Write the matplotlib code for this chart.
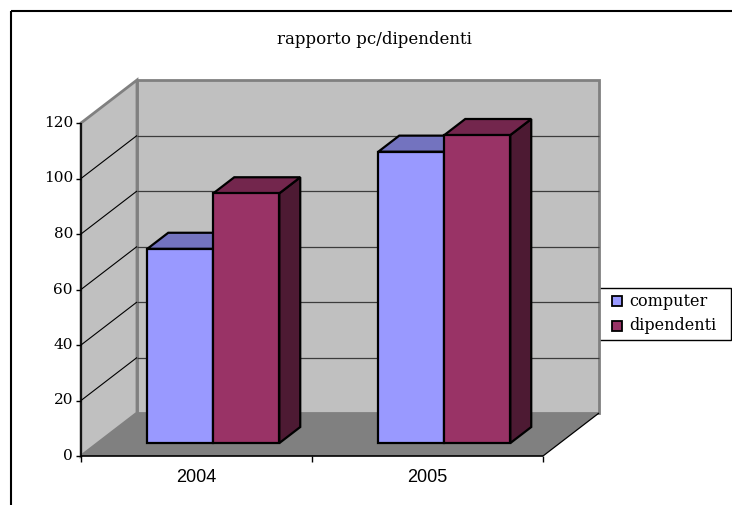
import matplotlib
matplotlib.use("Agg")
import matplotlib.pyplot as plt
from matplotlib.patches import Polygon, Rectangle

# ---- data ----
categories = ["2004", "2005"]
series_names = ["computer", "dipendenti"]
computer = [70, 105]
dipendenti = [90, 111]
y_ticks = [0, 20, 40, 60, 80, 100, 120]
title = "rapporto pc/dipendenti"

series_values = [computer, dipendenti]
front_colors = ["#9999FF", "#993366"]
top_colors = ["#7373BF", "#73264D"]
side_colors = ["#4D4D80", "#4D1A33"]

W, H = 732, 505
fig = plt.figure(figsize=(W / 100, H / 100), dpi=100)

# overlay in pixel units for the chart frame and legend
ov = fig.add_axes([0, 0, 1, 1])
ov.set_xlim(0, W)
ov.set_ylim(H, 0)
ov.axis("off")

# front plane of the 3D plot
ax = fig.add_axes([81 / W, (H - 456) / H, 462 / W, 333 / H])
ymax = y_ticks[-1]
ncat = len(categories)
ax.set_xlim(0, ncat)
ax.set_ylim(0, ymax)
ax.axis("off")

# depth shift (z = 1 is the back wall), expressed in data units
px_x = 462 / ncat
px_y = 333 / ymax
DX = 56 / px_x
DV = 43 / px_y


def P(x, v, z):
    return (x + z * DX, v + z * DV)


def face(pts, fc, ec="none", lw=0.0, zo=1):
    ax.add_patch(Polygon(pts, closed=True, facecolor=fc, edgecolor=ec,
                         linewidth=lw, clip_on=False, zorder=zo,
                         joinstyle="miter"))


def seg(a, b, color="black", lw=1.0, zo=2):
    ax.plot([a[0], b[0]], [a[1], b[1]], color=color, lw=lw, zorder=zo,
            clip_on=False, solid_capstyle="butt")


# walls and floor
face([P(0, 0, 1), P(ncat, 0, 1), P(ncat, ymax, 1), P(0, ymax, 1)],
     "#C0C0C0", "#808080", 2.0, 1)
face([P(0, 0, 0), P(0, 0, 1), P(0, ymax, 1), P(0, ymax, 0)],
     "#C0C0C0", "#808080", 2.0, 1)
face([P(0, 0, 0), P(ncat, 0, 0), P(ncat, 0, 1), P(0, 0, 1)],
     "#808080", zo=1.5)
seg(P(ncat, 0, 0), P(ncat, 0, 1), "black", 0.9, 1.6)

# gridlines
for v in y_ticks[1:-1]:
    seg(P(0, v, 0), P(0, v, 1), "black", 0.8, 1.7)
    seg(P(0, v, 1), P(ncat, v, 1), "#3C3C3C", 0.9, 1.7)

# value axis
tick_len = 5 / px_x
seg((0, 0), (0, ymax), "black", 1.2, 2)
for v in y_ticks:
    seg((-tick_len, v), (0, v), "black", 1.0, 2)
    ax.text(-8 / px_x, v, str(v), ha="right", va="center",
            family="DejaVu Serif", fontsize=11, color="black")

# category axis
seg((0, 0), (ncat, 0), "black", 1.2, 2)
for i in range(ncat + 1):
    seg((i, 0), (i, -6 / px_y), "black", 1.0, 2)
for i, c in enumerate(categories):
    ax.text(i + 0.5, -21 / px_y, c, ha="center", va="center",
            family="Liberation Sans", fontsize=13, color="black")

# bars
bw = 1 / 3.5
z0, z1 = 0.30, 0.674
zo = 3
for i in range(ncat):
    for j, vals in enumerate(series_values):
        v = vals[i]
        x0 = i + 0.5 - bw + j * bw
        x1 = x0 + bw
        face([P(x1, 0, z0), P(x1, 0, z1), P(x1, v, z1), P(x1, v, z0)],
             side_colors[j], "black", 1.6, zo)
        face([P(x0, v, z0), P(x1, v, z0), P(x1, v, z1), P(x0, v, z1)],
             top_colors[j], "black", 1.6, zo + 0.1)
        face([P(x0, 0, z0), P(x1, 0, z0), P(x1, v, z0), P(x0, v, z0)],
             front_colors[j], "black", 1.6, zo + 0.2)
        zo += 1

# title
ov.text(374, 40, title, ha="center", va="center", family="DejaVu Serif",
        fontsize=12, color="black")

# chart frame
ov.add_patch(Rectangle((11, 11), W + 20, H + 20, facecolor="none",
                       edgecolor="black", linewidth=1.5, zorder=0))

# legend
ov.add_patch(Rectangle((593, 288), 138, 52, facecolor="white",
                       edgecolor="black", linewidth=1.0, zorder=20))
for k, name in enumerate(series_names):
    yc = 301 + k * 25
    ov.add_patch(Rectangle((612, yc - 5), 10, 10, facecolor=front_colors[k],
                           edgecolor="black", linewidth=1.3, zorder=21))
    ov.text(629, yc, name, ha="left", va="center", family="DejaVu Serif",
            fontsize=11.5, color="black", zorder=22)

fig.savefig("out.png", dpi=100)
